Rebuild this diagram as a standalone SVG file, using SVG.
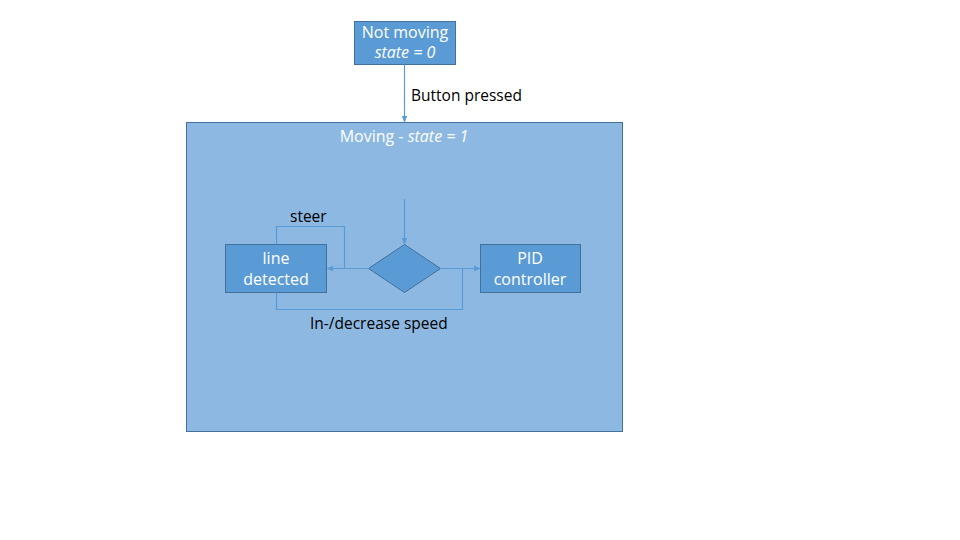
<svg xmlns="http://www.w3.org/2000/svg" width="960" height="540" viewBox="0 0 960 540">
<style>
.box{fill:#5B9BD5;stroke:#41719C;stroke-width:1}
.frame{fill:#8DB8E2;stroke:#41719C;stroke-width:1}
.wt{font-family:"Open Sans",sans-serif;font-size:16px;fill:#FFFFFF;text-anchor:middle}
.bt{font-family:"Open Sans",sans-serif;font-size:15.5px;fill:#000000}
.c{fill:none;stroke:#5B9BD5;stroke-width:1.2}
</style>
<defs>
<marker id="ah" viewBox="0 0 10 10" refX="9" refY="5" markerWidth="7" markerHeight="7" orient="auto" markerUnits="userSpaceOnUse">
<path d="M0,1 L10,5 L0,9 Z" fill="#5B9BD5"/>
</marker>
</defs>
<rect width="960" height="540" fill="#FFFFFF"/>
<g id="moving">
<rect class="frame" x="186.5" y="122.5" width="436" height="309"/>
<text class="wt" x="404" y="142">Moving - <tspan font-style="italic">state = 1</tspan></text>
</g>
<g id="notmoving">
<rect class="box" x="354.5" y="21.5" width="101" height="43"/>
<text class="wt" x="405" y="38">Not moving</text>
<text class="wt" x="405" y="58" font-style="italic">state = 0</text>
</g>
<g id="linedetected">
<rect class="box" x="225.5" y="244.5" width="101" height="48"/>
<text class="wt" x="276" y="264">line</text>
<text class="wt" x="276" y="285">detected</text>
</g>
<g id="pid">
<rect class="box" x="480.5" y="244.5" width="100" height="48"/>
<text class="wt" x="530" y="264">PID</text>
<text class="wt" x="530" y="285">controller</text>
</g>
<g id="decision">
<polygon class="box" points="404.5,244.5 440.5,268.5 404.5,292.5 368.5,268.5"/>
</g>
<g id="connectors">
<line class="c" x1="404.5" y1="64.5" x2="404.5" y2="122" marker-end="url(#ah)"/>
<line class="c" x1="404.5" y1="199" x2="404.5" y2="244" marker-end="url(#ah)"/>
<line class="c" x1="368.5" y1="268.5" x2="327" y2="268.5" marker-end="url(#ah)"/>
<line class="c" x1="440.5" y1="268.5" x2="480" y2="268.5" marker-end="url(#ah)"/>
<polyline class="c" points="344.5,268.5 344.5,226.5 276.5,226.5 276.5,244.5"/>
<polyline class="c" points="462.5,268.5 462.5,309.5 276.5,309.5 276.5,292.5"/>
</g>
<g id="labels">
<text class="bt" x="411" y="101">Button pressed</text>
<text class="bt" x="290" y="222">steer</text>
<text class="bt" x="310" y="329">In-/decrease speed</text>
</g>
</svg>
